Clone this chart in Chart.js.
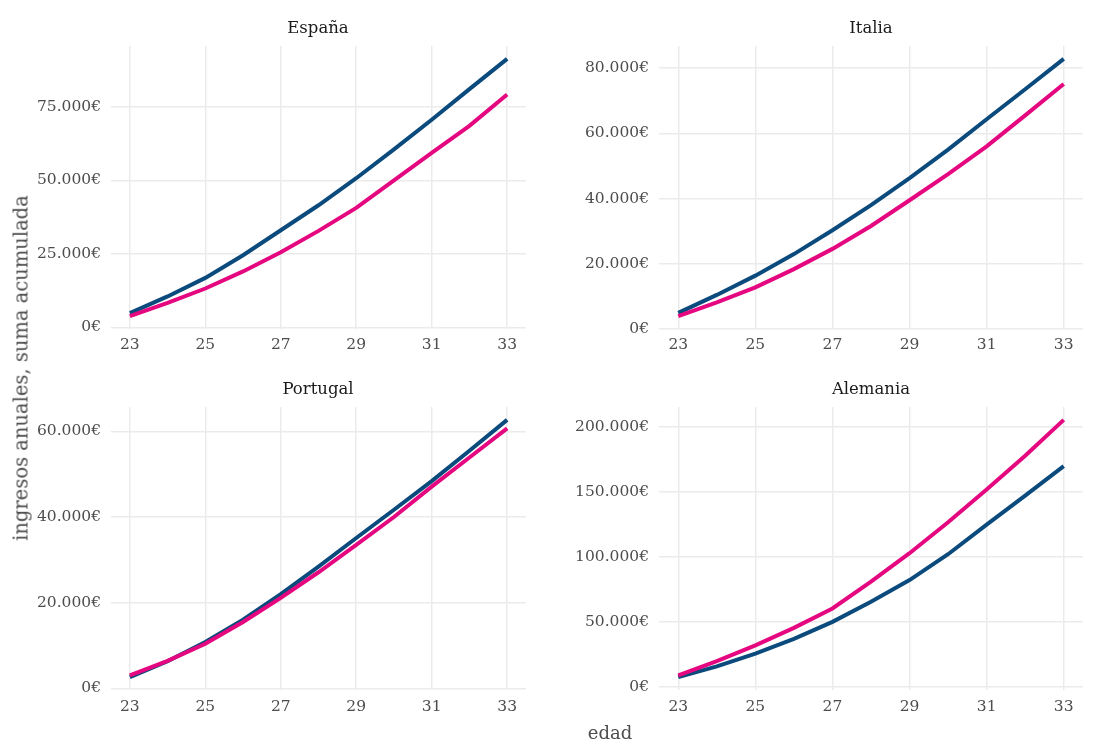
<!DOCTYPE html>
<html>
<head>
<meta charset="utf-8">
<script src="https://cdn.jsdelivr.net/npm/chart.js@4/dist/chart.umd.min.js"></script>
<style>
    body { margin: 0; background: #fff; width: 1098px; height: 742px; position: relative; overflow: hidden; font-family: "DejaVu Serif", serif; }
    .panel { position: absolute; width: 549px; height: 371px; }
    .strip { position: absolute; font-size: 16.5px; color: #1a1a1a; transform: translate(-50%, -50%); white-space: nowrap; }
    #ytitle { position: absolute; left: 21px; top: 368px; font-size: 19.5px; color: #4d4d4d; transform: translate(-50%, -50%) rotate(-90deg); white-space: nowrap; }
    #xtitle { position: absolute; left: 610px; top: 732px; font-size: 18px; color: #4d4d4d; transform: translate(-50%, -50%); }
</style>
</head>
<body>
<div class="panel" style="left:0;top:0"><canvas id="espanaChart" width="549" height="371"></canvas></div>
<div class="panel" style="left:549px;top:0"><canvas id="italiaChart" width="549" height="371"></canvas></div>
<div class="panel" style="left:0;top:371px"><canvas id="portugalChart" width="549" height="371"></canvas></div>
<div class="panel" style="left:549px;top:371px"><canvas id="alemaniaChart" width="549" height="371"></canvas></div>

<div class="strip" style="left:318px;top:27px">España</div>
<div class="strip" style="left:871px;top:27px">Italia</div>
<div class="strip" style="left:318px;top:388px">Portugal</div>
<div class="strip" style="left:871px;top:388px">Alemania</div>
<div id="ytitle">ingresos anuales, suma acumulada</div>
<div id="xtitle">edad</div>

<script>
// Datos (edad 23 a 33)
const edades = [23, 24, 25, 26, 27, 28, 29, 30, 31, 32, 33];
const xTicks = [23, 25, 27, 29, 31, 33];

const espanaAzul = [4800, 10500, 16800, 24500, 33000, 41500, 50700, 60500, 70600, 81000, 91300];
const espanaRosa = [3800, 8300, 13200, 19000, 25500, 32800, 40600, 50000, 59300, 68500, 79200];

const italiaAzul = [5000, 10500, 16400, 23000, 30300, 38000, 46300, 55000, 64300, 73500, 82800];
const italiaRosa = [4000, 8200, 12800, 18400, 24600, 31600, 39500, 47500, 56000, 65500, 75100];

const portugalAzul = [2600, 6300, 10800, 16000, 22000, 28400, 35100, 41700, 48400, 55500, 62700];
const portugalRosa = [3000, 6400, 10400, 15500, 21100, 27100, 33500, 40000, 47100, 53900, 60700];

const alemaniaAzul = [7700, 16000, 25700, 37000, 50100, 65500, 82200, 102000, 124700, 147000, 169600];
const alemaniaRosa = [9000, 20000, 32100, 45500, 60400, 81000, 102800, 126500, 151600, 177500, 205100];

const yTicksEspana = [0, 25000, 50000, 75000];
const yTicksItalia = [0, 20000, 40000, 60000, 80000];
const yTicksPortugal = [0, 20000, 40000, 60000];
const yTicksAlemania = [0, 50000, 100000, 150000, 200000];

const colors = {
    azul: '#0b4a7c',
    rosa: '#e5077f',
    grid: '#ebebeb',
    texto: '#4d4d4d'
};

function euros(v) {
    return String(Math.round(v)).replace(/\B(?=(\d{3})+(?!\d))/g, '.') + '€';
}

function renderPanel(id, azul, rosa, yTicks, geom) {
    const ctx = document.getElementById(id);
    if (!ctx) return;

    // margen de 5% como en ggplot
    const all = azul.concat(rosa);
    const lo = Math.min(...all), hi = Math.max(...all);
    const pad = (hi - lo) * 0.05;

    new Chart(ctx.getContext('2d'), {
        type: 'line',
        data: {
            datasets: [{
                data: edades.map((e, i) => ({ x: e, y: rosa[i] })),
                borderColor: colors.rosa,
                borderWidth: 4,
                pointRadius: 0,
                tension: 0
            }, {
                data: edades.map((e, i) => ({ x: e, y: azul[i] })),
                borderColor: colors.azul,
                borderWidth: 4,
                pointRadius: 0,
                tension: 0
            }]
        },
        options: {
            responsive: false,
            animation: false,
            layout: { padding: { top: geom.top, right: geom.right, left: 0, bottom: 0 } },
            plugins: { legend: { display: false }, tooltip: { enabled: false } },
            scales: {
                x: {
                    type: 'linear',
                    min: 22.5,
                    max: 33.5,
                    afterBuildTicks: s => { s.ticks = xTicks.map(v => ({ value: v })); },
                    afterFit: s => { s.height = geom.xh; },
                    grid: { color: colors.grid, lineWidth: 1.5, drawTicks: false },
                    border: { display: false },
                    ticks: {
                        padding: geom.xpad,
                        color: colors.texto,
                        font: { family: 'DejaVu Serif', size: 15.5 },
                        maxRotation: 0
                    }
                },
                y: {
                    min: lo - pad,
                    max: hi + pad,
                    afterBuildTicks: s => { s.ticks = yTicks.map(v => ({ value: v })); },
                    afterFit: s => { s.width = geom.left; },
                    grid: { color: colors.grid, lineWidth: 1.5, drawTicks: false },
                    border: { display: false },
                    ticks: {
                        padding: 10,
                        color: colors.texto,
                        font: { family: 'DejaVu Serif', size: 15.5 },
                        callback: v => euros(v)
                    }
                }
            }
        }
    });
}

document.addEventListener('DOMContentLoaded', function() {
    renderPanel('espanaChart', espanaAzul, espanaRosa, yTicksEspana, { left: 111, right: 23, top: 46, xh: 42, xpad: 7 });
    renderPanel('italiaChart', italiaAzul, italiaRosa, yTicksItalia, { left: 110, right: 15, top: 46, xh: 42, xpad: 7 });
    renderPanel('portugalChart', portugalAzul, portugalRosa, yTicksPortugal, { left: 111, right: 23, top: 36, xh: 52, xpad: 8 });
    renderPanel('alemaniaChart', alemaniaAzul, alemaniaRosa, yTicksAlemania, { left: 110, right: 15, top: 36, xh: 52, xpad: 8 });
});
</script>
</body>
</html>
